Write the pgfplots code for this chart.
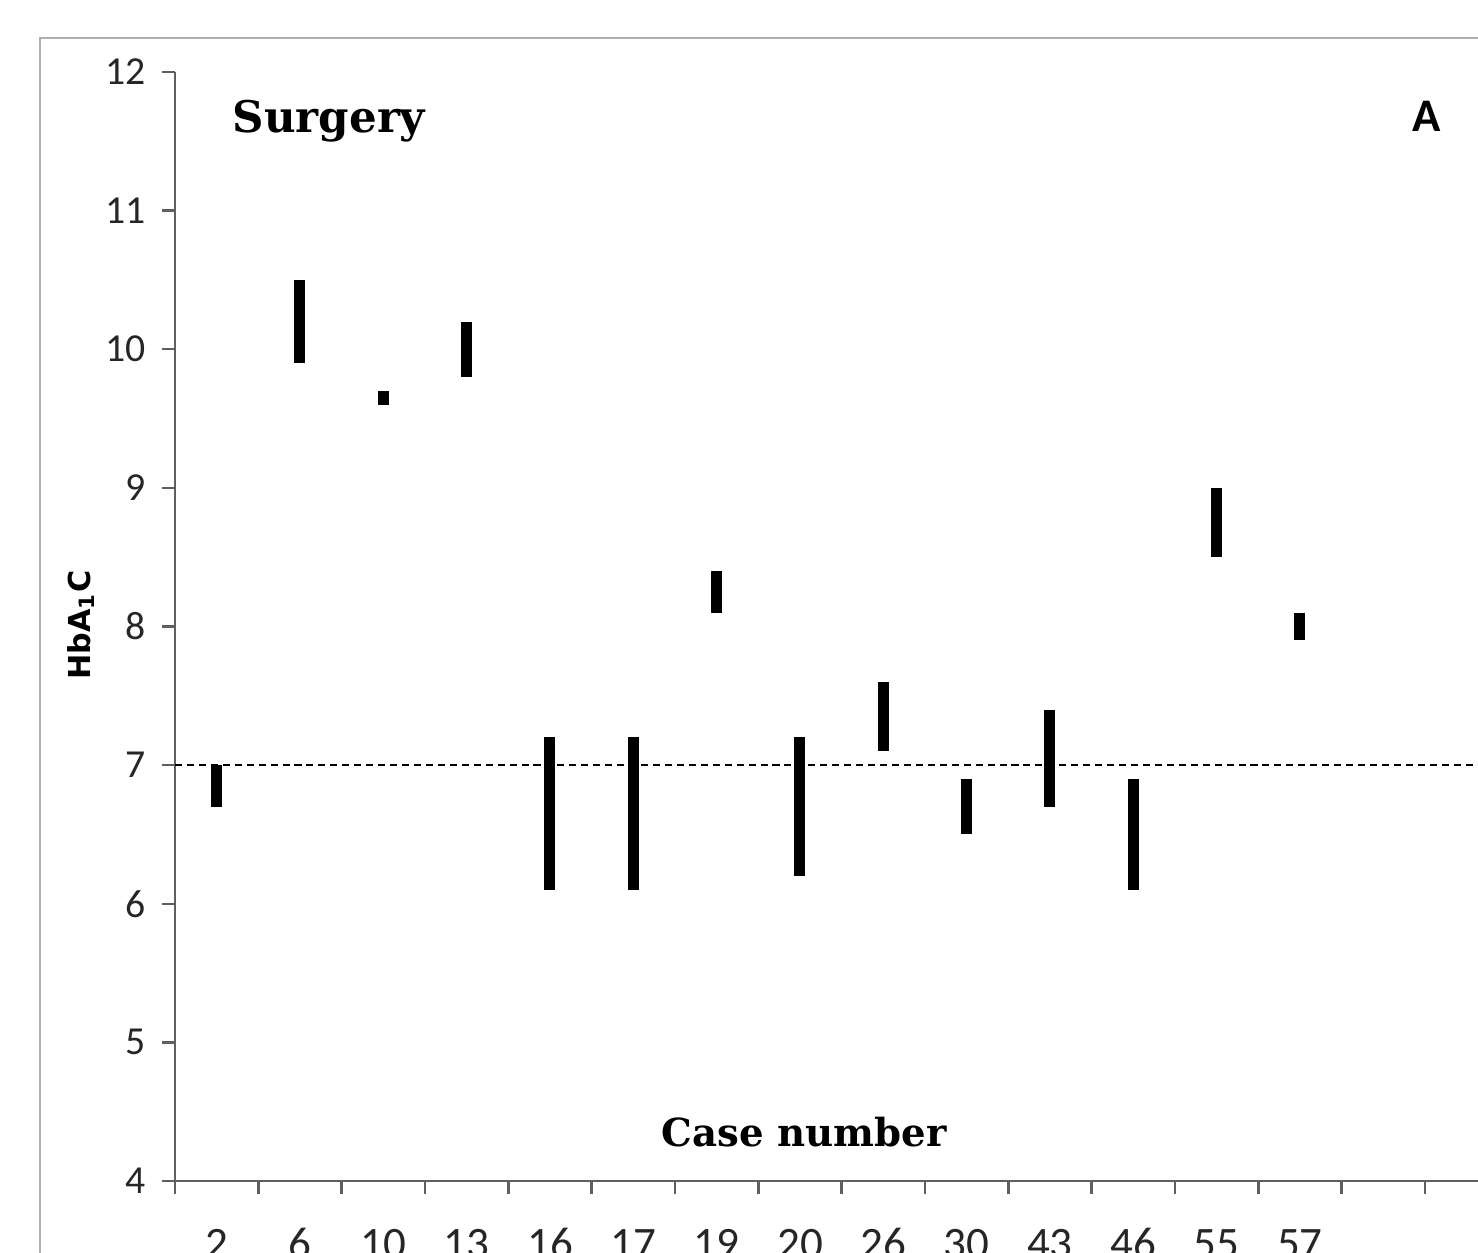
\documentclass[border=0pt]{standalone}
\usepackage{pgfplots}
\pgfplotsset{compat=1.18}
\usepackage{fontspec}
\setmainfont{Carlito}
\newfontfamily\dvserif{DejaVu Serif}
\newfontfamily\dvsans{DejaVu Sans}
\definecolor{axgray}{RGB}{95,95,95}
\definecolor{framegray}{RGB}{175,175,175}
\begin{document}
\begin{tikzpicture}[x=1cm,y=1cm]
\path[use as bounding box] (0,0) rectangle (14.78,12.53);
\clip (0,0) rectangle (14.78,12.53);
\draw[framegray, line width=0.025cm] (0.40,-1) -- (0.40,12.15) -- (16,12.15);
\begin{axis}[
  at={(1.75cm,0.72cm)}, anchor=south west,
  scale only axis, width=13.333cm, height=11.09cm,
  xmin=-0.5, xmax=15.5, ymin=4, ymax=12,
  axis lines=left, axis line style={axgray, line width=0.7pt, -},
  tick align=outside, major tick length=0.13cm,
  every tick/.style={axgray, line width=0.7pt},
  ytick={4,5,...,12},
  xtick={-0.5,0.5,...,15.5}, xticklabels={},
  extra x ticks={0,1,...,13},
  extra x tick labels={2,6,10,13,16,17,19,20,26,30,43,46,55,57},
  extra x tick style={major tick length=0pt},
  /pgf/number format/assume math mode=true,
  tick label style={text=black!85},
  yticklabel style={font=\fontsize{11.3}{13}\selectfont, xshift=-0.04cm},
  xticklabel style={font=\fontsize{12.8}{14}\selectfont, text height=0.28cm, text depth=0pt, anchor=north, yshift=-0.37cm},
  clip=false,
]
\addplot[black, line width=0.65pt, dash pattern=on 2pt off 1.4pt] coordinates {(-0.5,7) (15.5,7)};
\addplot[black, line width=0.11cm, line cap=butt] table[row sep=\\] {
x y\\
0 7.0\\ 0 6.7\\ \\
1 10.5\\ 1 9.9\\ \\
2 9.7\\ 2 9.6\\ \\
3 10.2\\ 3 9.8\\ \\
4 7.2\\ 4 6.1\\ \\
5 7.2\\ 5 6.1\\ \\
6 8.4\\ 6 8.1\\ \\
7 7.2\\ 7 6.2\\ \\
8 7.6\\ 8 7.1\\ \\
9 6.9\\ 9 6.5\\ \\
10 7.4\\ 10 6.7\\ \\
11 6.9\\ 11 6.1\\ \\
12 9.0\\ 12 8.5\\ \\
13 8.1\\ 13 7.9\\
};
\end{axis}
\node[anchor=base west, inner sep=0pt, font=\dvserif\bfseries\fontsize{12.4}{14}\selectfont] at (2.32,11.20) {Surgery};
\node[anchor=base west, inner sep=0pt, font=\dvserif\bfseries\fontsize{11}{13}\selectfont] at (6.61,1.06) {Case number};
\node[inner sep=0pt, font=\bfseries\fontsize{13.3}{15}\selectfont] at (14.27,11.37) {A};
\node[rotate=90, inner sep=0pt, font=\dvsans\bfseries\fontsize{8.6}{10}\selectfont] at (0.81,6.28) {HbA\textsubscript{1}C};
\end{tikzpicture}
\end{document}
